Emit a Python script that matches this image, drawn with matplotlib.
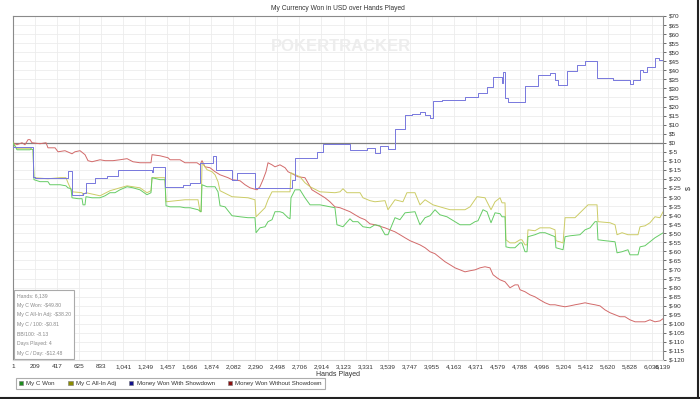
import matplotlib
matplotlib.use("Agg")
import matplotlib.pyplot as plt
from matplotlib.patches import Patch
from matplotlib.lines import Line2D
from matplotlib.ticker import FuncFormatter, FixedLocator

plt.rcParams['font.family'] = ['Liberation Sans', 'DejaVu Sans']

title = "My Currency Won in USD over Hands Played"
series_names = ["My C Won", "My C All-In Adj", "Money Won With Showdown", "Money Won Without Showdown"]
stats_lines = ["Hands: 6,139", "My C Won: -$49.80", "My C All-In Adj: -$38.20",
               "My C / 100: -$0.81", "BB/100: -8.13", "Days Played: 4", "My C / Day: -$12.48"]
x_ticks = [1, 209, 417, 625, 833, 1041, 1249, 1457, 1666, 1874, 2082, 2290, 2498, 2706,
           2914, 3123, 3331, 3539, 3747, 3955, 4163, 4371, 4579, 4788, 4996, 5204, 5412,
           5620, 5828, 6036, 6139]

# --- My C Won (green)
won_h = [1, 39, 162, 171, 190, 199, 256, 331, 350, 445, 501, 520, 549, 558, 615, 653, 662, 681,
         690, 747, 823, 870, 917, 964, 1011, 1078, 1134, 1200, 1266, 1304, 1314, 1389, 1436, 1446,
         1484, 1578, 1625, 1672, 1748, 1777, 1786, 1833, 1909, 1937, 1956, 2003, 2069, 2145, 2220,
         2286, 2296, 2333, 2381, 2409, 2447, 2475, 2522, 2551, 2598, 2617, 2626, 2664, 2711, 2758,
         2806, 2900, 2994, 3041, 3060, 3117, 3183, 3211, 3258, 3306, 3372, 3419, 3467, 3514, 3542,
         3608, 3655, 3703, 3797, 3844, 3892, 3939, 3986, 4033, 4099, 4175, 4222, 4317, 4364, 4392,
         4439, 4477, 4515, 4553, 4600, 4619, 4647, 4656, 4694, 4741, 4789, 4807, 4836, 4855, 4864,
         4930, 4977, 5025, 5072, 5119, 5128, 5195, 5214, 5261, 5355, 5403, 5450, 5497, 5516, 5525,
         5591, 5686, 5705, 5752, 5808, 5827, 5903, 5922, 5969, 6016, 6063, 6110, 6139]
won_v = [0, -3.9, -3.9, -3.3, -3.9, -20.4, -21.5, -21.5, -23.2, -23.2, -23.8, -24.9, -25.4, -30.4,
         -30.9, -30.9, -34.3, -34.3, -29.8, -30.4, -30.4, -29.3, -27.6, -27.6, -26.0, -24.3, -24.9,
         -26.0, -28.7, -27.6, -19.3, -20.4, -20.4, -34.8, -35.4, -35.4, -35.9, -35.9, -37.0, -38.1,
         -23.2, -24.3, -24.3, -27.1, -34.8, -35.4, -40.3, -40.9, -41.4, -41.4, -49.7, -47.0, -46.4,
         -43.6, -42.5, -38.1, -38.1, -38.7, -41.4, -42.0, -30.4, -26.0, -26.0, -30.4, -34.3, -34.3,
         -35.4, -35.9, -45.3, -46.4, -42.0, -43.6, -43.6, -46.4, -47.0, -45.3, -45.9, -50.8, -50.8,
         -41.4, -42.5, -38.7, -38.1, -45.3, -41.4, -40.3, -37.0, -39.8, -40.9, -43.6, -45.3, -45.3,
         -43.6, -43.1, -37.0, -38.1, -44.2, -38.7, -39.2, -40.9, -40.9, -57.5, -58.0, -58.0, -55.3,
         -55.3, -60.2, -60.2, -51.9, -50.8, -49.7, -49.7, -50.8, -51.9, -58.0, -59.1, -51.9, -51.4,
         -50.8, -48.1, -47.0, -43.6, -43.6, -53.6, -54.1, -54.7, -60.8, -60.2, -59.1, -61.9, -61.9,
         -57.5, -56.9, -54.7, -52.5, -50.8, -49.8]

# --- My C All-In Adj (yellow)
adj_h = [1, 39, 162, 190, 199, 331, 445, 501, 520, 558, 653, 662, 690, 823, 917, 1011, 1078, 1200,
         1266, 1304, 1314, 1436, 1446, 1625, 1748, 1767, 1777, 1786, 1833, 1880, 1909, 1937, 1956,
         2069, 2220, 2286, 2296, 2381, 2409, 2447, 2617, 2626, 2711, 2758, 2806, 2900, 3041, 3089,
         3117, 3155, 3278, 3306, 3372, 3419, 3514, 3542, 3608, 3683, 3721, 3797, 3844, 3892, 3967,
         4062, 4128, 4269, 4317, 4383, 4458, 4515, 4553, 4600, 4619, 4647, 4656, 4694, 4741, 4789,
         4807, 4836, 4855, 4864, 4930, 4977, 5072, 5119, 5128, 5195, 5214, 5308, 5355, 5431, 5516,
         5525, 5639, 5686, 5705, 5752, 5808, 5903, 5922, 5969, 6016, 6063, 6110, 6139]
adj_v = [0, -3.3, -3.3, -3.9, -19.3, -19.9, -19.3, -19.3, -22.1, -27.1, -27.6, -28.7, -27.6, -29.3,
         -26.5, -24.9, -23.8, -24.9, -27.6, -26.5, -19.3, -19.3, -32.6, -31.5, -31.5, -38.1, -38.1,
         -11.05, -14.9, -16.0, -17.7, -21.5, -26.5, -29.8, -30.4, -31.5, -40.9, -35.9, -31.5, -27.1,
         -27.1, -16.6, -18.8, -22.1, -24.3, -27.1, -27.6, -27.1, -25.4, -27.6, -27.6, -30.4, -32.0,
         -32.6, -32.0, -37.0, -31.5, -32.6, -27.6, -27.6, -34.3, -31.5, -34.3, -35.9, -37.0, -37.0,
         -35.4, -29.8, -30.4, -37.0, -32.6, -30.4, -33.2, -33.2, -53.6, -55.3, -55.3, -53.6, -53.6,
         -56.4, -56.4, -48.1, -48.6, -47.0, -47.0, -48.1, -54.1, -55.3, -41.4, -41.4, -38.7, -34.3,
         -34.3, -43.6, -44.2, -45.3, -50.8, -49.7, -50.8, -50.8, -46.4, -45.9, -44.2, -40.9, -41.4,
         -38.2]

# --- Money Won With Showdown (blue), step series
sd_h = [1, 190, 209, 520, 558, 662, 690, 775, 889, 993, 1314, 1323, 1436, 1606, 1672, 1767, 1890,
        1918, 2069, 2116, 2286, 2636, 2664, 2871, 2928, 3183, 3344, 3419, 3467, 3542, 3608, 3703,
        3769, 3844, 3892, 3939, 3967, 4052, 4269, 4392, 4477, 4534, 4619, 4628, 4647, 4675, 4836,
        4959, 5072, 5119, 5147, 5232, 5327, 5403, 5516, 5667, 5827, 5856, 5922, 5950, 5988, 6063,
        6101, 6139]
sd_v = [-2.2, -18.8, -19.3, -15.5, -28.7, -27.6, -22.1, -19.3, -18.2, -14.9, -16.4, -13.3, -24.3,
        -23.2, -22.1, -11.05, -7.2, -14.9, -20.4, -16.6, -24.9, -20.4, -8.3, -5.0, -0.55, -3.9,
        -2.8, -5.5, -1.7, -3.3, 7.7, 15.5, 16.0, 17.1, 15.5, 13.8, 23.2, 23.8, 25.4, 27.6, 30.9,
        36.5, 33.2, 39.2, 24.9, 22.7, 31.5, 37.6, 38.7, 34.8, 32.0, 39.5, 43.1, 45.3, 35.9, 34.8,
        32.6, 34.8, 40.3, 39.2, 42.0, 47.0, 45.9, 46.4]

# --- Money Won Without Showdown (red)
nsd_h = [1, 39, 86, 114, 143, 162, 180, 256, 313, 331, 398, 426, 492, 558, 586, 634, 681, 709, 747,
         823, 870, 945, 1011, 1078, 1134, 1200, 1304, 1314, 1389, 1465, 1484, 1578, 1625, 1738,
         1767, 1786, 1814, 1861, 1909, 1956, 2031, 2069, 2145, 2192, 2239, 2305, 2333, 2362, 2390,
         2409, 2447, 2475, 2522, 2570, 2598, 2636, 2692, 2758, 2824, 2900, 2947, 2994, 3041, 3089,
         3136, 3183, 3231, 3278, 3325, 3372, 3419, 3514, 3608, 3655, 3703, 3750, 3844, 3892, 3939,
         3986, 4033, 4080, 4128, 4175, 4222, 4269, 4317, 4364, 4411, 4458, 4505, 4534, 4572, 4600,
         4647, 4694, 4741, 4770, 4789, 4836, 4883, 4930, 4977, 5025, 5072, 5119, 5166, 5214, 5261,
         5308, 5355, 5403, 5450, 5497, 5544, 5591, 5639, 5686, 5733, 5780, 5827, 5875, 5969, 6016,
         6063, 6110, 6139]
nsd_v = [0, -1.1, 0, -1.1, 1.7, 1.7, 0, -0.55, 0, -2.8, -2.8, -5.0, -4.4, -6.1, -5.0, -4.4, -6.6,
         -9.9, -10.5, -9.4, -9.9, -9.9, -9.4, -8.8, -10.5, -11.05, -11.05, -6.6, -7.2, -8.3, -9.4,
         -9.4, -11.05, -11.05, -12.2, -9.9, -13.3, -13.8, -16.0, -17.7, -19.3, -20.4, -21.0, -23.2,
         -24.9, -26.0, -24.3, -20.4, -16.0, -11.05, -12.2, -13.3, -12.2, -13.8, -16.0, -17.1, -18.8,
         -19.3, -26.0, -28.7, -30.4, -32.6, -35.4, -35.9, -37.0, -38.1, -39.8, -41.4, -42.5, -44.8,
         -45.3, -47.0, -49.2, -50.8, -52.5, -54.1, -56.4, -58.0, -60.2, -61.3, -63.5, -65.7, -67.4,
         -69.1, -70.2, -71.3, -70.7, -70.2, -69.1, -68.5, -69.1, -72.9, -74.6, -75.7, -76.8, -80.1,
         -78.5, -78.5, -81.2, -82.3, -84.0, -85.1, -86.8, -88.4, -89.5, -89.5, -90.1, -90.6, -90.1,
         -89.5, -89.0, -88.4, -89.0, -89.5, -90.1, -92.3, -93.9, -95.0, -96.1, -96.1, -97.8, -98.9,
         -98.9, -97.8, -98.9, -98.4, -97.2]

line_colors = ["#66cc66", "#cccc66", "#7777dd", "#d26a6a"]
legend_colors = ["#1e8c1e", "#8c8c00", "#10108c", "#8c1010"]

fig = plt.figure(figsize=(7.0, 3.99), dpi=100)
ax = fig.add_axes([13/700, 1-360/399, 650/700, 344/399])

ax.plot(won_h, won_v, color=line_colors[0], lw=0.7, zorder=3)
ax.plot(adj_h, adj_v, color=line_colors[1], lw=0.7, zorder=2.9)
ax.plot(sd_h, sd_v, color=line_colors[2], lw=0.7, drawstyle='steps-post', zorder=3.1)
ax.plot(nsd_h, nsd_v, color=line_colors[3], lw=0.7, zorder=2.8)

ax.set_xlim(1, 6139)
ax.set_ylim(-120, 70)
ax.axhline(0, color="#808080", lw=0.9, zorder=2)

ax.yaxis.tick_right()
ax.yaxis.set_label_position("right")
ax.set_yticks(list(range(-120, 71, 5)))
ax.yaxis.set_major_formatter(FuncFormatter(lambda v, p: f"${int(v)}"))
ax.xaxis.set_major_locator(FixedLocator(x_ticks))
ax.xaxis.set_major_formatter(FuncFormatter(lambda v, p: f"{int(v):,}"))
ax.tick_params(axis='y', labelsize=4.6, colors="#555555", length=2.5, width=0.6, pad=1.5, labelcolor="#333333")
ax.tick_params(axis='x', labelsize=4.6, colors="#555555", length=0, pad=3, labelcolor="#333333")
ax.grid(True, color="#ececec", lw=0.6, zorder=0)
ax.set_axisbelow(True)
for s in ax.spines.values():
    s.set_color("#8a8a8a")
    s.set_linewidth(0.8)
ax.spines['bottom'].set_color("#d8d8d8")

ax.set_xlabel("Hands Played", fontsize=5, color="#333333", labelpad=1.5)
ax.set_ylabel("$", fontsize=5, color="#333333", rotation=90, labelpad=0)
fig.text(338/700, 1-8/399, title, fontsize=4.8, color="#333333", ha='center', va='center')

# watermark
ax.text(0.505, 0.91, "POKERTRACKER", transform=ax.transAxes, fontsize=12, fontweight='bold',
        color="#ededed", ha='center', va='center', zorder=1)

# stats box
ax.text(0.006, 0.012, "\n".join(stats_lines), transform=ax.transAxes, fontsize=3.7,
        color="#888888", ha='left', va='bottom', linespacing=2.15, zorder=5,
        bbox=dict(boxstyle='square,pad=0.55', fc='white', ec='#aaaaaa', lw=0.8))

handles = [Patch(facecolor=c, edgecolor='#777777', lw=0.4) for c in legend_colors]
leg = fig.legend(handles, series_names, loc='lower left', bbox_to_anchor=(13/700, 1-392/399),
                 ncol=4, fontsize=4.4, frameon=True, fancybox=False, edgecolor='#999999',
                 handlelength=0.7, handleheight=0.7, handletextpad=0.5, columnspacing=2.2,
                 borderpad=0.5, labelcolor="#333333")
leg.get_frame().set_linewidth(0.8)

# outer frame bottom/right
fig.add_artist(Line2D([0, 1], [0.0025, 0.0025], transform=fig.transFigure, color="#222222", lw=1.5))
fig.add_artist(Line2D([0.9975, 0.9975], [0, 1], transform=fig.transFigure, color="#222222", lw=1.5))

fig.savefig("out.png", dpi=100)
